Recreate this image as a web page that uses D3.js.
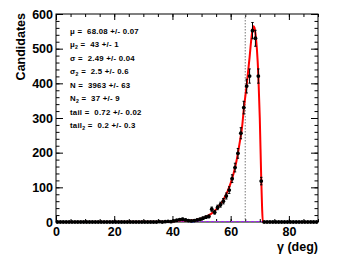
<!DOCTYPE html>
<html><head><meta charset="utf-8">
<script src="https://cdn.jsdelivr.net/npm/d3@7"></script>
<style>body{margin:0;background:#fff}svg{display:block}text{font-family:"Liberation Sans",Arial,Helvetica,sans-serif}</style>
</head><body><svg id="c" width="353" height="265"></svg>
<script>
// histogram counts, one per 1-degree bin, bin i spans [i, i+1)
const counts = [
  0,0,0,0,0,0,0,0,0,0, 0,0,0,0,0,0,0,0,0,0,
  0,0,0,0,0,0,0,0,0,0, 0,0,0,0,0,1,0,1,2,1,
  3,5,7,8,6,4,3,4,6,8, 11,14,16,37,28,42,50,60,75,92,
  125,157,198,256,330,392,421,552,530,421, 118,0,0,0,0,0,0,0,0,0,
  0,0,0,0,0,0,0,0,0,0
];
// fitted total curve
const fitX = [0,38,40,41,42,43,44,45,46,48,50,52,54,56,57,58,59,60,61,62,63,64,64.5,65,65.5,66,66.5,67,67.5,67.8,68.2,68.5,69,69.5,70,70.5,70.8,71.05,90];
const fitY = [0,0.5,1.5,2.5,4,5,4.5,4,4,6,10,17,28,46,57,72,90,112,140,176,224,280,325,360,395,435,475,520,555,565,560,545,500,425,300,125,40,0,0];
// second component (small gaussian near 43)
const comp2X = [38,40,41,42,43,44,45,46,48];
const comp2Y = [0,1,3,4.5,5,4.5,3,1,0];
const cutValue = 65;
const yTicks = [0,100,200,300,400,500,600];
const xTicks = [0,20,40,60,80];
const paramLines = [
  {name:"\u03bc", sub:"", val:" =  68.08 +/- 0.07"},
  {name:"\u03bc", sub:"2", val:" =  43 +/- 1"},
  {name:"\u03c3", sub:"", val:" =  2.49 +/- 0.04"},
  {name:"\u03c3", sub:"2", val:" =  2.5 +/- 0.6"},
  {name:"N", sub:"", val:" =  3963 +/- 63"},
  {name:"N", sub:"2", val:" =  37 +/- 9"},
  {name:"tail", sub:"", val:" =  0.72 +/- 0.02"},
  {name:"tail", sub:"2", val:" =  0.2 +/- 0.3"}
];

const L=56, R=318, T=14, B=222;
const svg = d3.select("#c");
const x = d3.scaleLinear().domain([0,90]).range([L,R]);
const y = d3.scaleLinear().domain([0,600]).range([B,T]);

const fontTick = "bold 12.5px 'Liberation Sans', Arial, sans-serif";
function styleAxis(g){ g.select(".domain").remove(); g.selectAll("line").attr("stroke","#000"); g.selectAll("text").style("font", fontTick).attr("fill","#000"); }

svg.append("g").attr("transform",`translate(0,${B})`)
  .call(d3.axisBottom(x).tickValues(xTicks).tickSize(-6).tickPadding(5).tickFormat(d3.format("d"))).call(styleAxis);
svg.append("g").attr("transform",`translate(0,${B})`)
  .call(d3.axisBottom(x).tickValues(d3.range(0,91,5)).tickSize(-3).tickFormat("")).call(styleAxis);
svg.append("g").attr("transform",`translate(0,${T})`)
  .call(d3.axisTop(x).tickValues(xTicks).tickSize(-6).tickFormat("")).call(styleAxis);
svg.append("g").attr("transform",`translate(0,${T})`)
  .call(d3.axisTop(x).tickValues(d3.range(0,91,5)).tickSize(-3).tickFormat("")).call(styleAxis);

svg.append("g").attr("transform",`translate(${L},0)`)
  .call(d3.axisLeft(y).tickValues(yTicks).tickSize(-7).tickPadding(3)).call(styleAxis);
svg.append("g").attr("transform",`translate(${L},0)`)
  .call(d3.axisLeft(y).tickValues(d3.range(0,601,20)).tickSize(-3.5).tickFormat("")).call(styleAxis);
svg.append("g").attr("transform",`translate(${R},0)`)
  .call(d3.axisRight(y).tickValues(yTicks).tickSize(-7).tickFormat("")).call(styleAxis);
svg.append("g").attr("transform",`translate(${R},0)`)
  .call(d3.axisRight(y).tickValues(d3.range(0,601,20)).tickSize(-3.5).tickFormat("")).call(styleAxis);

// frame
svg.append("rect").attr("x",L).attr("y",T).attr("width",R-L).attr("height",B-T)
  .attr("fill","none").attr("stroke","#000").attr("stroke-width",1);

// dotted cut line
svg.append("line").attr("x1",x(cutValue)).attr("x2",x(cutValue)).attr("y1",T).attr("y2",B)
  .attr("stroke","#777").attr("stroke-width",1).attr("stroke-dasharray","1.5,1.5");

// background component dashed along zero
svg.append("line").attr("x1",x(0)).attr("x2",x(90)).attr("y1",y(0)-0.5).attr("y2",y(0)-0.5)
  .attr("stroke","#a020f0").attr("stroke-width",1.2).attr("stroke-dasharray","3,2");

const line = d3.line().x(d=>x(d[0])).y(d=>y(d[1])).curve(d3.curveMonotoneX);
svg.append("path").datum(comp2X.map((v,i)=>[v,comp2Y[i]])).attr("d",line)
  .attr("fill","none").attr("stroke","#2040ff").attr("stroke-width",1.2).attr("stroke-dasharray","3,2");
svg.append("path").datum(fitX.map((v,i)=>[v,fitY[i]])).attr("d",line)
  .attr("fill","none").attr("stroke","#ff0000").attr("stroke-width",2);

// data points
const pts = counts.map((c,i)=>({xc:i+0.5, c:c, e:Math.sqrt(c)}));
const gp = svg.append("g");
pts.forEach(p=>{
  if(p.e>0){
    gp.append("line").attr("x1",x(p.xc)).attr("x2",x(p.xc)).attr("y1",y(p.c-p.e)).attr("y2",y(p.c+p.e)).attr("stroke","#000").attr("stroke-width",1);
    [p.c-p.e,p.c+p.e].forEach(v=>gp.append("line").attr("x1",x(p.xc)-1.2).attr("x2",x(p.xc)+1.2).attr("y1",y(v)).attr("y2",y(v)).attr("stroke","#000").attr("stroke-width",1));
  }
  gp.append("line").attr("x1",x(p.xc-0.5)).attr("x2",x(p.xc+0.5)).attr("y1",y(p.c)).attr("y2",y(p.c)).attr("stroke","#000").attr("stroke-width",1);
  gp.append("circle").attr("cx",x(p.xc)).attr("cy",y(p.c)).attr("r",1.9).attr("fill","#000");
});

// parameter box text
const gt = svg.append("g").style("font","bold 7.8px 'Liberation Sans', Arial, sans-serif")
  .style("white-space","pre").style("letter-spacing","0.25px");
paramLines.forEach((d,i)=>{
  const t = gt.append("text").attr("x",70).attr("y",33.5+i*13.5).attr("fill","#000").attr("xml:space","preserve");
  t.append("tspan").text(d.name);
  if(d.sub) t.append("tspan").attr("dy",2).style("font-size","5.2px").text(d.sub);
  t.append("tspan").attr("dy",d.sub?-2:0).text(d.val);
});

// titles
svg.append("text").attr("transform",`translate(25,${T-1}) rotate(-90)`).attr("text-anchor","end")
  .style("font","bold 12.5px 'Liberation Sans', Arial, sans-serif").text("Candidates");
svg.append("text").attr("x",R).attr("y",251).attr("text-anchor","end")
  .style("font","bold 12.5px 'Liberation Sans', Arial, sans-serif").text("\u03b3 (deg)");
</script></body></html>
